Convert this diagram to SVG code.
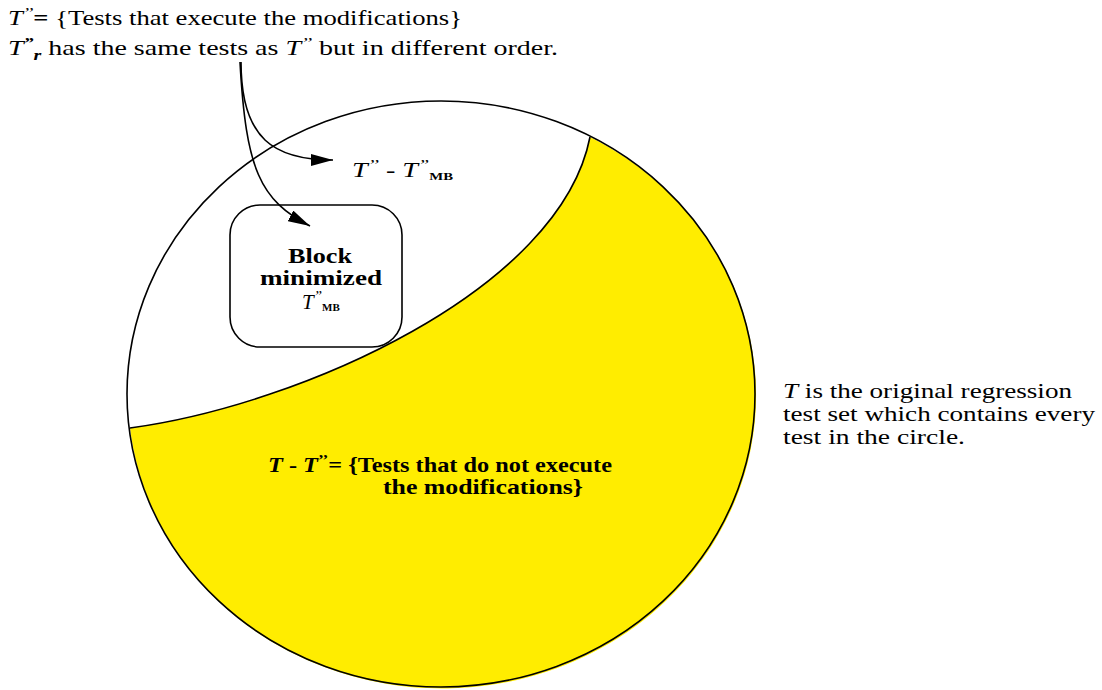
<svg xmlns="http://www.w3.org/2000/svg" width="1102" height="690" viewBox="0 0 1102 690">
<defs>
<marker id="ah" viewBox="0 0 22 12" refX="22" refY="6" markerWidth="22" markerHeight="12" markerUnits="userSpaceOnUse" orient="auto"><path d="M0,0 L22,6 L0,12 z" fill="#000"/></marker>
<style>
text{font-family:'Liberation Serif',serif;fill:#000;font-size:21px}
.b{font-weight:bold}
.i{font-style:italic}
.sub{font-size:11px;font-weight:bold}
.ln{fill:none;stroke:#000;stroke-width:1.6}
</style>
</defs>
<rect width="1102" height="690" fill="#fff"/>
<g id="top-text">
<text x="8" y="25" textLength="454" lengthAdjust="spacingAndGlyphs"><tspan class="i">T</tspan><tspan class="i" dy="-7" font-size="15">’’</tspan><tspan class="b" dy="7">=</tspan> {Tests that execute the modifications}</text>
<text x="8" y="55" textLength="550" lengthAdjust="spacingAndGlyphs"><tspan class="i">T</tspan><tspan class="i b" dy="-7" font-size="15">”</tspan><tspan class="i b" dy="12" font-size="15">r</tspan><tspan dy="-5"> has the same tests as </tspan><tspan class="i">T</tspan><tspan class="i" dy="-7" font-size="15">’’</tspan><tspan dy="7"> but in different order.</tspan></text>
</g>
<g id="circle">
<ellipse cx="441" cy="394" rx="314" ry="293" fill="#fff" stroke="none"/>
<path d="M130,428 C300,405 560,290 590,137 A314,293 0 1 1 130,428 Z" fill="#FFED00" stroke="none"/>
<path d="M130,428 C300,405 560,290 590,137" class="ln"/>
<ellipse cx="441" cy="394" rx="314" ry="293" class="ln"/>
</g>
<g id="diff-label">
<text x="352" y="177" textLength="101" lengthAdjust="spacingAndGlyphs"><tspan class="i">T</tspan><tspan class="i" dy="-7" font-size="15">’’</tspan><tspan dy="7"> - </tspan><tspan class="i">T</tspan><tspan class="i" dy="-7" font-size="15">”</tspan><tspan class="sub" dy="10">MB</tspan></text>
</g>
<g id="block-box">
<rect x="230" y="205" width="172" height="142" rx="30" ry="30" fill="#fff" stroke="#000" stroke-width="1.6"/>
<text class="b" x="320" y="263" text-anchor="middle" style="font-size:21px" textLength="64" lengthAdjust="spacingAndGlyphs">Block</text>
<text class="b" x="321" y="285" text-anchor="middle" style="font-size:21px" textLength="122" lengthAdjust="spacingAndGlyphs">minimized</text>
<text x="302" y="309"><tspan class="i">T</tspan><tspan class="i" dy="-8" font-size="15">”</tspan><tspan class="sub" dy="10">MB</tspan></text>
</g>
<g id="yellow-label">
<text class="b" x="268" y="472" textLength="344" lengthAdjust="spacingAndGlyphs"><tspan class="i">T</tspan> - <tspan class="i">T</tspan><tspan dy="-7" font-size="15">’’</tspan><tspan dy="7">= {Tests that do not execute</tspan></text>
<text class="b" x="383" y="494" textLength="200" lengthAdjust="spacingAndGlyphs">the modifications}</text>
</g>
<g id="side-note">
<text x="783" y="398" textLength="289" lengthAdjust="spacingAndGlyphs"><tspan class="i">T</tspan> is the original regression</text>
<text x="783" y="421" textLength="312" lengthAdjust="spacingAndGlyphs">test set which contains every</text>
<text x="783" y="444" textLength="182" lengthAdjust="spacingAndGlyphs">test in the circle.</text>
</g>
<g id="connectors">
<path d="M241,62 C241,140 275,160 333,160" class="ln" marker-end="url(#ah)"/>
<path d="M240,62 C246,170 260,200 310,226" class="ln" marker-end="url(#ah)"/>
</g>
</svg>
